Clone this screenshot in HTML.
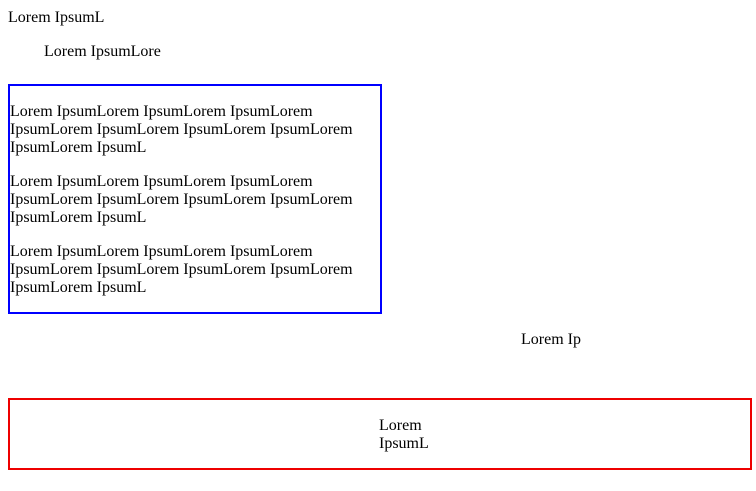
<!DOCTYPE html>
<html><head><style>
body{margin:0;width:756px;height:491px;background:#fff;position:relative;font-family:"Liberation Serif",serif;font-size:16px;line-height:18px;color:#000;overflow:hidden}
.a{position:absolute;white-space:nowrap}
.box{position:absolute;box-sizing:border-box}
</style></head><body>
<div class="a" style="left:8px;top:9px">Lorem IpsumL</div>
<div class="a" style="left:44px;top:43px">Lorem IpsumLore</div>
<div class="box" style="left:8px;top:84px;width:374px;height:230px;border:2px solid #0000ff"></div>
<div class="a" style="left:10px;top:103px">Lorem IpsumLorem IpsumLorem IpsumLorem<br>IpsumLorem IpsumLorem IpsumLorem IpsumLorem<br>IpsumLorem IpsumL</div>
<div class="a" style="left:10px;top:173px">Lorem IpsumLorem IpsumLorem IpsumLorem<br>IpsumLorem IpsumLorem IpsumLorem IpsumLorem<br>IpsumLorem IpsumL</div>
<div class="a" style="left:10px;top:243px">Lorem IpsumLorem IpsumLorem IpsumLorem<br>IpsumLorem IpsumLorem IpsumLorem IpsumLorem<br>IpsumLorem IpsumL</div>
<div class="a" style="left:521px;top:331px">Lorem Ip</div>
<div class="box" style="left:8px;top:398px;width:744px;height:72px;border:2px solid #ee0000"></div>
<div class="a" style="left:379px;top:417px">Lorem<br>IpsumL</div>
</body></html>
